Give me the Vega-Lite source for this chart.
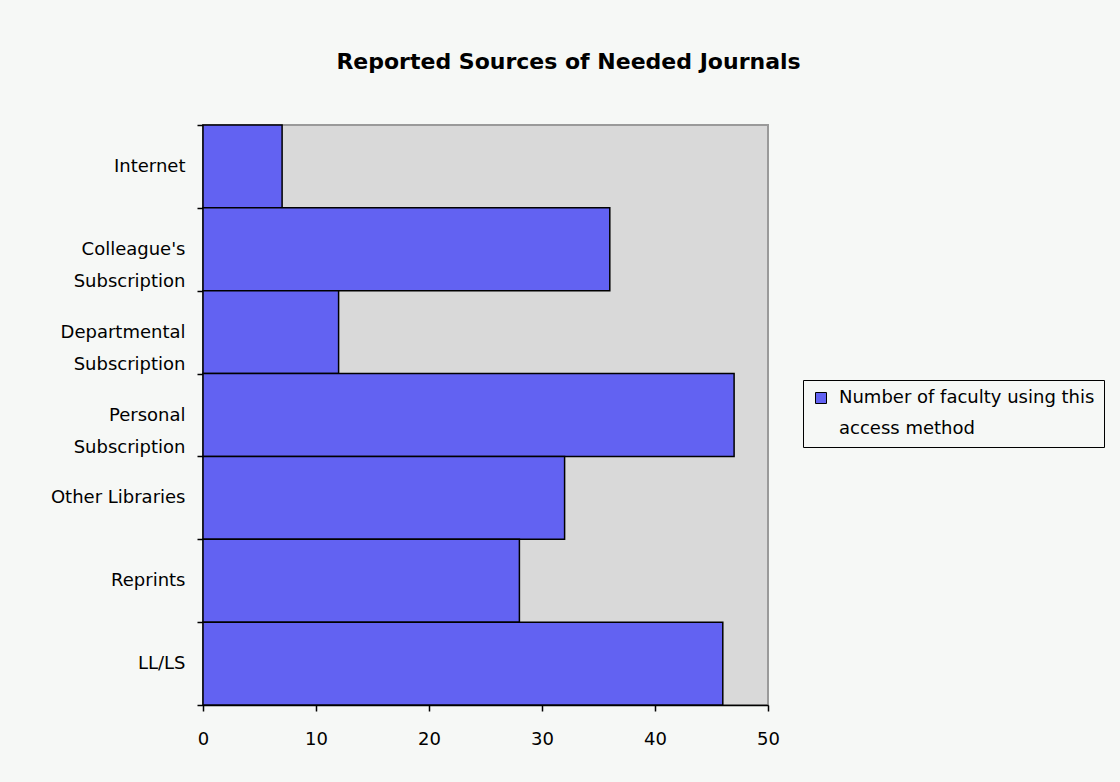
{
  "$schema": "https://vega.github.io/schema/vega-lite/v6.json",
  "width": 565,
  "height": 580,
  "autosize": {"type": "none"},
  "padding": {"left": 203, "top": 125, "right": 352, "bottom": 77},
  "background": "#f6f8f6",
  "title": {
    "text": "Reported Sources of Needed Journals",
    "font": "DejaVu Sans",
    "fontSize": 22,
    "fontWeight": "bold",
    "color": "#000000",
    "anchor": "middle",
    "dx": 83,
    "offset": 42
  },
  "data": {
    "values": [
      {"source": "Internet", "count": 7, "series": "Number of faculty using this access method"},
      {"source": "Colleague's Subscription", "count": 36, "series": "Number of faculty using this access method"},
      {"source": "Departmental Subscription", "count": 12, "series": "Number of faculty using this access method"},
      {"source": "Personal Subscription", "count": 47, "series": "Number of faculty using this access method"},
      {"source": "Other Libraries", "count": 32, "series": "Number of faculty using this access method"},
      {"source": "Reprints", "count": 28, "series": "Number of faculty using this access method"},
      {"source": "LL/LS", "count": 46, "series": "Number of faculty using this access method"}
    ]
  },
  "mark": {"type": "bar", "stroke": "#000000", "strokeWidth": 1.5, "opacity": 1},
  "encoding": {
    "y": {
      "field": "source",
      "type": "nominal",
      "sort": null,
      "scale": {"paddingInner": 0, "paddingOuter": 0},
      "axis": {
        "title": null,
        "tickBand": "extent",
        "tickSize": 6,
        "tickColor": "#000000",
        "tickWidth": 1.5,
        "domainColor": "#000000",
        "domainWidth": 1.5,
        "labelPadding": 12,
        "labelFont": "DejaVu Sans",
        "labelFontSize": 18,
        "labelColor": "#000000",
        "labelLineHeight": 32,
        "labelLimit": 300,
        "labelExpr": "indexof(datum.label, 'Subscription') > 0 ? [replace(datum.label, ' Subscription', ''), 'Subscription'] : datum.label"
      }
    },
    "x": {
      "field": "count",
      "type": "quantitative",
      "scale": {"domain": [0, 50]},
      "axis": {
        "title": null,
        "values": [0, 10, 20, 30, 40, 50],
        "grid": false,
        "tickSize": 6,
        "tickColor": "#000000",
        "tickWidth": 1.5,
        "domainColor": "#000000",
        "domainWidth": 1.5,
        "labelPadding": 19,
        "labelFont": "DejaVu Sans",
        "labelFontSize": 18,
        "labelColor": "#000000",
        "labelFlush": false
      }
    },
    "color": {
      "field": "series",
      "type": "nominal",
      "scale": {"range": ["#6262f2"]},
      "legend": {
        "title": null,
        "orient": "none",
        "legendX": 600,
        "legendY": 255,
        "padding": 9,
        "strokeColor": "#000000",
        "symbolType": "square",
        "symbolSize": 121,
        "symbolStrokeColor": "#000000",
        "symbolStrokeWidth": 1,
        "symbolOpacity": 1,
        "labelOffset": 9,
        "labelFont": "DejaVu Sans",
        "labelFontSize": 18,
        "labelColor": "#000000",
        "labelLimit": 400,
        "labelBaseline": "middle",
        "labelExpr": "['Number of faculty using this', 'access method']"
      }
    }
  },
  "config": {
    "view": {"fill": "#d9d9d9", "stroke": "#9a9a9a", "strokeWidth": 2},
    "style": {"guide-label": {"lineHeight": 31}}
  }
}
